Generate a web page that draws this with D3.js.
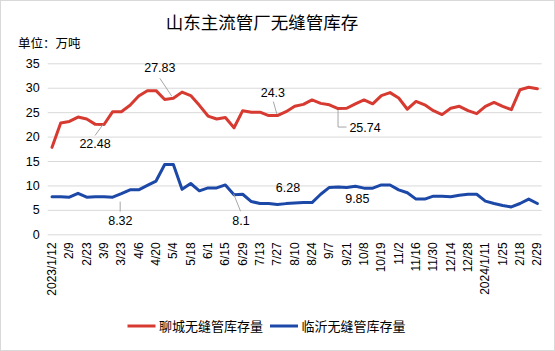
<!DOCTYPE html>
<html>
<head>
<meta charset="utf-8">
<script src="https://cdn.jsdelivr.net/npm/d3@7"></script>
<style>
  html, body { margin: 0; padding: 0; background: #fff; }
  svg { display: block; font-family: "Liberation Sans", Arial, sans-serif; }
  .cjk { font-family: "Noto Sans CJK SC", "Liberation Sans", sans-serif; }
</style>
</head>
<body>
<svg id="chart"></svg>
<script>
// ======================
// DATA
// ======================

const categories = [
  "2023/1/12", "2/2", "2/9", "2/16", "2/23", "3/2", "3/9", "3/16", "3/23", "3/30",
  "4/6", "4/13", "4/20", "4/27", "5/4", "5/11", "5/18", "5/25", "6/1", "6/8",
  "6/15", "6/21", "6/29", "7/6", "7/13", "7/20", "7/27", "8/3", "8/10", "8/17",
  "8/24", "8/31", "9/7", "9/14", "9/21", "9/28", "10/8", "10/12", "10/19", "10/26",
  "11/2", "11/9", "11/16", "11/23", "11/30", "12/7", "12/14", "12/21", "12/28", "2024/1/4",
  "2024/1/11", "1/18", "1/25", "2/8", "2/18", "2/22", "2/29"
];

// 聊城无缝管库存量 (万吨)
const liaocheng = [
  17.8, 22.8, 23.1, 24.0, 23.6, 22.5, 22.48, 25.1, 25.1, 26.4,
  28.3, 29.4, 29.4, 27.6, 27.83, 29.1, 28.4, 26.4, 24.2, 23.6,
  23.9, 21.8, 25.3, 25.0, 25.0, 24.3, 24.3, 25.1, 26.2, 26.6,
  27.5, 26.8, 26.5, 25.74, 25.8, 26.7, 27.5, 26.7, 28.4, 29.0,
  27.9, 25.6, 27.2, 26.5, 25.3, 24.5, 25.8, 26.2, 25.3, 24.7,
  26.2, 27.0, 26.2, 25.5, 29.6, 30.1, 29.8
];

// 临沂无缝管库存量 (万吨)
const linyi = [
  7.7, 7.7, 7.6, 8.4, 7.6, 7.7, 7.7, 7.6, 8.32, 9.1,
  9.1, 10.0, 10.9, 14.3, 14.3, 9.2, 10.4, 8.9, 9.5, 9.5,
  10.1, 8.1, 8.2, 6.7, 6.3, 6.3, 6.1, 6.28, 6.4, 6.5,
  6.5, 8.2, 9.6, 9.7, 9.6, 9.85, 9.45, 9.45, 10.1, 10.1,
  9.1, 8.5, 7.2, 7.2, 7.8, 7.8, 7.7, 8.0, 8.2, 8.2,
  6.8, 6.3, 5.9, 5.6, 6.3, 7.2, 6.3
];

const yTicks = [0, 5, 10, 15, 20, 25, 30, 35];
const seriesNames = ["聊城无缝管库存量", "临沂无缝管库存量"];

// labelled points: [series, index]
const labelled = [
  [0, 6], [0, 14], [0, 26], [0, 33],
  [1, 8], [1, 21], [1, 27], [1, 35]
];

// ======================
// SETUP
// ======================

const width = 555;
const height = 351;
const colors = ["#d63a30", "#1c48a8"];

const svg = d3.select("#chart").attr("width", width).attr("height", height);

svg.append("rect")
  .attr("x", 0.5).attr("y", 0.5)
  .attr("width", width - 1).attr("height", height - 1)
  .attr("fill", "#fff").attr("stroke", "#d9d9d9");

const margin = { top: 63.3, right: 13.3, bottom: 116.7, left: 47.7 };
const innerWidth = width - margin.left - margin.right;
const innerHeight = height - margin.top - margin.bottom;

const g = svg.append("g")
  .attr("transform", `translate(${margin.left},${margin.top})`);

const x = d3.scalePoint()
  .domain(d3.range(categories.length))
  .range([0, innerWidth])
  .padding(0.5);

const y = d3.scaleLinear()
  .domain([0, 35])
  .range([innerHeight, 0]);

// title + unit
svg.append("text")
  .attr("class", "cjk")
  .attr("x", 262).attr("y", 21.5)
  .attr("text-anchor", "middle")
  .attr("dominant-baseline", "central")
  .attr("font-size", 17.5)
  .attr("fill", "#000")
  .text("山东主流管厂无缝管库存");

svg.append("text")
  .attr("class", "cjk")
  .attr("x", 18).attr("y", 42)
  .attr("dominant-baseline", "central")
  .attr("font-size", 12.5)
  .attr("fill", "#000")
  .text("单位：万吨");

// y axis with gridlines
const yAxisG = g.append("g")
  .call(d3.axisLeft(y).tickValues(yTicks).tickSize(-innerWidth).tickPadding(8));
yAxisG.select(".domain").remove();
yAxisG.selectAll(".tick line").attr("stroke", "#d9d9d9");
yAxisG.selectAll(".tick text")
  .attr("font-size", 12.5)
  .attr("fill", "#000")
  .attr("font-family", "Liberation Sans, Arial, sans-serif");

// x axis: ticks from the axis, labels drawn rotated at the tick positions
const xAxisG = g.append("g")
  .attr("transform", `translate(0,${innerHeight})`)
  .call(d3.axisBottom(x)
    .tickValues(d3.range(0, categories.length, 2))
    .tickFormat(i => categories[i])
    .tickSize(0));
xAxisG.select(".domain").remove();
xAxisG.selectAll(".tick text").remove();

g.append("g")
  .selectAll("text.x-label")
  .data(d3.range(0, categories.length, 2))
  .join("text")
  .attr("class", "x-label")
  .attr("transform", i => `translate(${x(i) + 4},${innerHeight + 8}) rotate(-90)`)
  .attr("text-anchor", "end")
  .attr("font-size", 12)
  .attr("fill", "#000")
  .text(i => categories[i]);

// lines
const lineGen = d3.line()
  .x((d, i) => x(i))
  .y(d => y(d));

[liaocheng, linyi].forEach((series, s) => {
  g.append("path")
    .datum(series)
    .attr("fill", "none")
    .attr("stroke", colors[s])
    .attr("stroke-width", 3)
    .attr("stroke-linejoin", "round")
    .attr("stroke-linecap", "round")
    .attr("d", lineGen);
});

// data labels (offsets of label centre from point, plus optional leader)
const labelOffsets = [
  { dx: -9, dy: 19.5, leader: [[-9, 11], [-1, 0]] },
  { dx: -13.5, dy: -31, leader: [[-13.5, -20], [-1.5, -2]] },
  { dx: -4.5, dy: -23.5, leader: [[-4, -14], [-0.5, -1.5]] },
  { dx: 27, dy: 19, leader: [[0, 1.5], [0, 18.5], [8.5, 18.5]] },
  { dx: -1, dy: 26.5, leader: [[-1.2, 8], [-1.2, 18]] },
  { dx: 7, dy: 26, leader: [[-0.5, -1], [6.5, 16.5]] },
  { dx: 2, dy: -16, leader: null },
  { dx: 2, dy: 12.5, leader: null }
];

const allSeries = [liaocheng, linyi];
labelled.forEach(([s, i], k) => {
  const v = allSeries[s][i];
  const px = x(i), py = y(v);
  const o = labelOffsets[k];
  if (o.leader) {
    g.append("path")
      .attr("d", d3.line()(o.leader.map(p => [px + p[0], py + p[1]])))
      .attr("fill", "none")
      .attr("stroke", "#a6a6a6")
      .attr("stroke-width", 1);
  }
  g.append("text")
    .attr("x", px + o.dx)
    .attr("y", py + o.dy + 4.5)
    .attr("text-anchor", "middle")
    .attr("font-size", 12.5)
    .attr("fill", "#000")
    .text(String(v));
});

// legend
const legendItems = [
  { x: 127.5, name: seriesNames[0], color: colors[0] },
  { x: 270, name: seriesNames[1], color: colors[1] }
];
const legend = svg.append("g").attr("transform", "translate(0,326)");
legendItems.forEach(d => {
  legend.append("line")
    .attr("x1", d.x).attr("x2", d.x + 28)
    .attr("y1", 0).attr("y2", 0)
    .attr("stroke", d.color)
    .attr("stroke-width", 3);
  legend.append("text")
    .attr("class", "cjk")
    .attr("x", d.x + 31.5)
    .attr("y", 4.5)
    .attr("font-size", 13)
    .attr("fill", "#000")
    .text(d.name);
});
</script>
</body>
</html>
